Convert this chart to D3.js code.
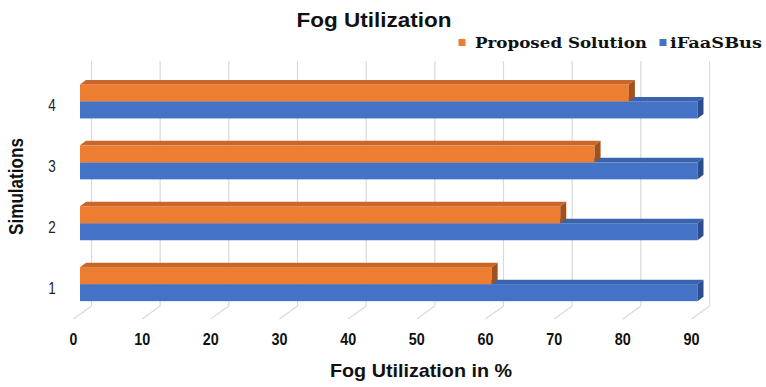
<!DOCTYPE html>
<html>
<head>
<meta charset="utf-8">
<script src="https://cdn.jsdelivr.net/npm/d3@7"></script>
<style>
  html, body { margin: 0; padding: 0; background: #fff; }
  svg { display: block; }
</style>
</head>
<body>
<svg id="chart" width="766" height="387"></svg>
<script>
// Data
const simulations = ["4", "3", "2", "1"];
const seriesNames = ["Proposed Solution", "iFaaSBus"];
const proposedValues = { "1": 60, "2": 70, "3": 75, "4": 80 };
const ifaasbusValues = { "1": 90, "2": 90, "3": 90, "4": 90 };
const xTicks = [0, 10, 20, 30, 40, 50, 60, 70, 80, 90];

const colors = {
  "Proposed Solution": { front: "#ED7D31", top: "#C9672A", side: "#A3511C" },
  "iFaaSBus": { front: "#4472C4", top: "#3A63AE", side: "#2C4E8C" }
};

const svg = d3.select("#chart");
const sans = "'Liberation Sans', Arial, sans-serif";

// Perspective: back wall, bar plane, and floor front edge are offset horizontally
const xBack = d3.scaleLinear().domain([0, 90]).range([91.5, 709.5]);
const xBar = d3.scaleLinear().domain([0, 90]).range([80, 697.5]);
const xFront = d3.scaleLinear().domain([0, 90]).range([73.5, 691.5]);
const wallTop = 61, floorBack = 306, floorFront = 319;
const depthDx = 6, depthDy = -4.5;

// Category bands and series bands inside each category
const y0 = d3.scaleBand().domain(simulations).range([71, 314.6]);
const y1 = d3.scaleBand().domain(seriesNames).range([-17, 17]);

// Back-wall gridlines and floor ticks
const grid = svg.append("g");
grid.selectAll("line.v").data(xTicks).join("line")
  .attr("x1", d => xBack(d)).attr("x2", d => xBack(d))
  .attr("y1", wallTop).attr("y2", floorBack)
  .attr("stroke", "#d9d9d9").attr("stroke-width", 1.2);
grid.selectAll("line.d").data(xTicks).join("line")
  .attr("x1", d => xBack(d)).attr("y1", floorBack)
  .attr("x2", d => xFront(d)).attr("y2", floorFront)
  .attr("stroke", "#d9d9d9").attr("stroke-width", 1.2);

// Tick labels (condensed bold)
svg.append("g").selectAll("text").data(xTicks).join("text")
  .attr("x", d => xFront(d)).attr("y", 344.5)
  .attr("text-anchor", "middle")
  .attr("font-family", sans).attr("font-weight", "bold").attr("font-size", 16.5)
  .attr("textLength", d => String(d).length === 1 ? 7.8 : 16)
  .attr("lengthAdjust", "spacingAndGlyphs")
  .attr("fill", "#111")
  .text(d => d);

// 3D bars
const bars = [];
simulations.forEach(s => {
  // draw lower series first so the upper one overlaps its top face
  bars.push({ sim: s, series: "iFaaSBus", value: ifaasbusValues[s] });
  bars.push({ sim: s, series: "Proposed Solution", value: proposedValues[s] });
});

const barG = svg.append("g");
bars.forEach(b => {
  const cy = y0(b.sim) + y0.bandwidth() / 2;
  const yt = cy + y1(b.series);
  const yb = yt + y1.bandwidth();
  const xa = xBar(0), xb = xBar(b.value);
  const c = colors[b.series];
  const g = barG.append("g");
  g.append("rect").attr("x", xa).attr("y", yt).attr("width", xb - xa).attr("height", yb - yt)
    .attr("fill", c.front);
  g.append("polygon")
    .attr("points", [[xa, yt], [xa + depthDx, yt + depthDy], [xb + depthDx, yt + depthDy], [xb, yt]].map(p => p.join(",")).join(" "))
    .attr("fill", c.top);
  g.append("polygon")
    .attr("points", [[xb, yt], [xb + depthDx, yt + depthDy], [xb + depthDx, yb + depthDy], [xb, yb]].map(p => p.join(",")).join(" "))
    .attr("fill", c.side);
});

// Category labels
svg.append("g").selectAll("text").data(simulations).join("text")
  .attr("x", 52).attr("y", d => y0(d) + y0.bandwidth() / 2 + 9.5)
  .attr("text-anchor", "middle")
  .attr("font-family", sans).attr("font-size", 16.5)
  .attr("textLength", 7.5).attr("lengthAdjust", "spacingAndGlyphs")
  .attr("fill", "#222")
  .text(d => d);

// Title
svg.append("text").attr("x", 374).attr("y", 26.5).attr("text-anchor", "middle")
  .attr("font-family", sans).attr("font-weight", "bold")
  .attr("font-size", 21).attr("textLength", 155).attr("lengthAdjust", "spacingAndGlyphs")
  .attr("fill", "#111").text("Fog Utilization");

// Axis titles
svg.append("text").attr("x", 421).attr("y", 377).attr("text-anchor", "middle")
  .attr("font-family", sans).attr("font-weight", "bold")
  .attr("font-size", 19).attr("textLength", 182).attr("lengthAdjust", "spacingAndGlyphs")
  .attr("fill", "#111").text("Fog Utilization in %");

svg.append("text").attr("transform", "translate(23,186.5) rotate(-90)").attr("text-anchor", "middle")
  .attr("font-family", sans).attr("font-weight", "bold")
  .attr("font-size", 20).attr("textLength", 97).attr("lengthAdjust", "spacingAndGlyphs")
  .attr("fill", "#111").text("Simulations");

// Legend
const legendItems = [
  { name: "Proposed Solution", sx: 458.5, tx: 475, w: 172 },
  { name: "iFaaSBus", sx: 659.5, tx: 670, w: 92 }
];
const legend = svg.append("g");
legendItems.forEach(it => {
  legend.append("rect").attr("x", it.sx).attr("y", 39).attr("width", 7).attr("height", 7)
    .attr("fill", colors[it.name].front);
  legend.append("text").attr("x", it.tx).attr("y", 47.5)
    .attr("font-family", "'DejaVu Serif', 'Liberation Serif', serif").attr("font-weight", "bold")
    .attr("font-size", 14.5).attr("textLength", it.w).attr("lengthAdjust", "spacingAndGlyphs")
    .attr("fill", "#111").text(it.name);
});
</script>
</body>
</html>
